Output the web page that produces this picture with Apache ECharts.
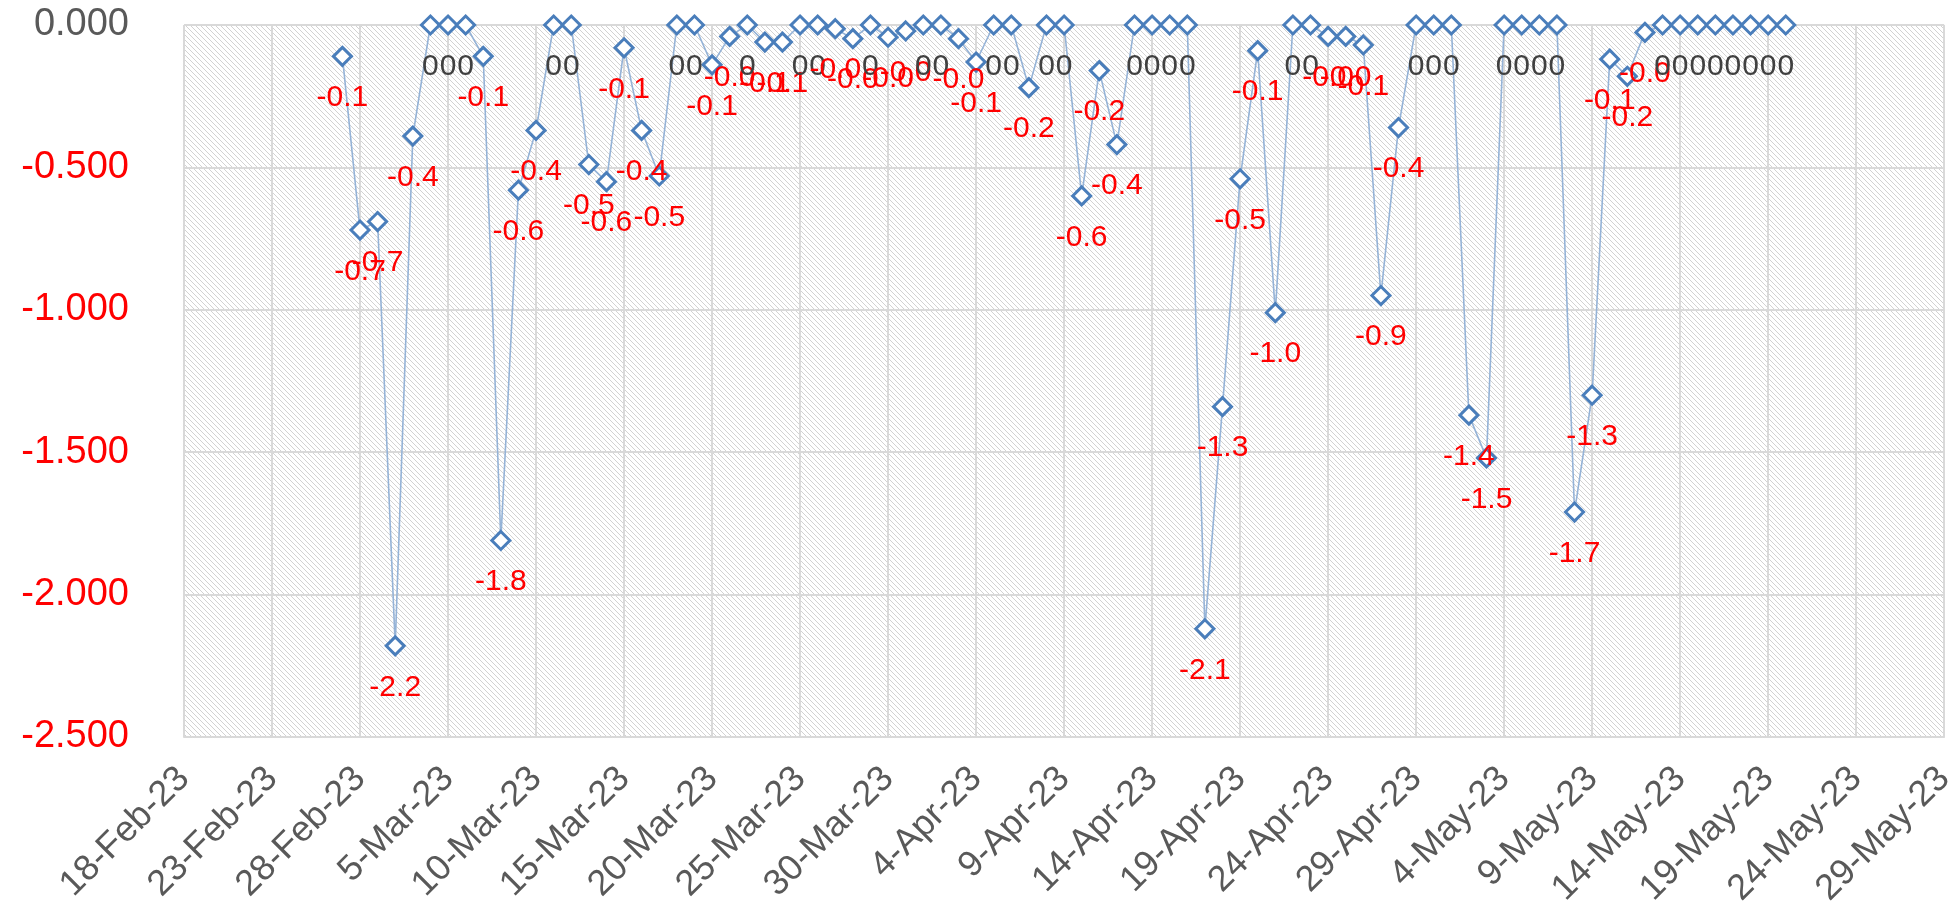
<!DOCTYPE html>
<html>
<head>
<meta charset="utf-8">
<script src="https://cdn.jsdelivr.net/npm/echarts@6/dist/echarts.min.js"></script>
<style>
html,body{margin:0;padding:0;background:#fff;}
#chart{width:1959px;height:910px;}
</style>
</head>
<body>
<div id="chart"></div>
<script>
// ---- data ----
const axisStart = '2023-02-18';
const axisEnd = '2023-05-29';
const yTicks = [-2.5, -2.0, -1.5, -1.0, -0.5, 0];
const dates = [
 '2023-02-27','2023-02-28','2023-03-01','2023-03-02','2023-03-03','2023-03-04','2023-03-05','2023-03-06','2023-03-07','2023-03-08',
 '2023-03-09','2023-03-10','2023-03-11','2023-03-12','2023-03-13','2023-03-14','2023-03-15','2023-03-16','2023-03-17','2023-03-18',
 '2023-03-19','2023-03-20','2023-03-21','2023-03-22','2023-03-23','2023-03-24','2023-03-25','2023-03-26','2023-03-27','2023-03-28',
 '2023-03-29','2023-03-30','2023-03-31','2023-04-01','2023-04-02','2023-04-03','2023-04-04','2023-04-05','2023-04-06','2023-04-07',
 '2023-04-08','2023-04-09','2023-04-10','2023-04-11','2023-04-12','2023-04-13','2023-04-14','2023-04-15','2023-04-16','2023-04-17',
 '2023-04-18','2023-04-19','2023-04-20','2023-04-21','2023-04-22','2023-04-23','2023-04-24','2023-04-25','2023-04-26','2023-04-27',
 '2023-04-28','2023-04-29','2023-04-30','2023-05-01','2023-05-02','2023-05-03','2023-05-04','2023-05-05','2023-05-06','2023-05-07',
 '2023-05-08','2023-05-09','2023-05-10','2023-05-11','2023-05-12','2023-05-13','2023-05-14','2023-05-15','2023-05-16','2023-05-17',
 '2023-05-18','2023-05-19','2023-05-20'
];
const values = [
 -0.11,-0.72,-0.69,-2.18,-0.39,0,0,0,-0.11,-1.81,
 -0.58,-0.37,0,0,-0.49,-0.55,-0.08,-0.37,-0.53,0,
 0,-0.14,-0.04,0,-0.06,-0.06,0,0,-0.013,-0.048,
 0,-0.043,-0.021,0,0,-0.048,-0.13,0,0,-0.22,
 0,0,-0.60,-0.16,-0.42,0,0,0,0,-2.12,
 -1.34,-0.54,-0.09,-1.01,0,0,-0.04,-0.04,-0.07,-0.95,
 -0.36,0,0,0,-1.37,-1.52,0,0,0,0,
 -1.71,-1.30,-0.12,-0.18,-0.026,0,0,0,0,0,
 0,0,0
];

// ---- helpers ----
const MON = ['Jan','Feb','Mar','Apr','May','Jun','Jul','Aug','Sep','Oct','Nov','Dec'];
function toUTC(s){const p=s.split('-').map(Number);return Date.UTC(p[0],p[1]-1,p[2]);}
const t0 = toUTC(axisStart);
const DAY = 86400000;
function dayOffset(s){return Math.round((toUTC(s)-t0)/DAY);}
function fmtDay(v){const d=new Date(t0+v*DAY);return d.getUTCDate()+'-'+MON[d.getUTCMonth()]+'-'+String(d.getUTCFullYear()).slice(2);}

const seriesData = dates.map((d,i)=>[dayOffset(d), values[i]]);

// hatch pattern
const pc = document.createElement('canvas');
pc.width = 5; pc.height = 5;
const g = pc.getContext('2d');
g.fillStyle = '#ffffff'; g.fillRect(0,0,5,5);
g.strokeStyle = '#d2d2d2'; g.lineWidth = 1;
g.beginPath();
g.moveTo(-1,-1); g.lineTo(6,6);
g.moveTo(-1,4); g.lineTo(1,6);
g.moveTo(4,-1); g.lineTo(6,1);
g.stroke();

const FONT = 'Liberation Sans';
const chart = echarts.init(document.getElementById('chart'), null, {renderer:'canvas'});
chart.setOption({
  animation: false,
  backgroundColor: '#ffffff',
  grid: {
    left: 184, right: 8, top: 25, bottom: 173,
    show: true, borderWidth: 0,
    backgroundColor: {image: pc, repeat: 'repeat'}
  },
  xAxis: {
    type: 'value',
    min: 0, max: dayOffset(axisEnd), interval: 5,
    axisLine: {show: true, onZero: false, lineStyle: {color: '#d9d9d9', width: 2}},
    axisTick: {show: false},
    splitLine: {show: true, lineStyle: {color: '#d9d9d9', width: 2}},
    axisLabel: {
      rotate: 45, margin: 36,
      color: '#595959', fontFamily: FONT, fontSize: 36,
      formatter: v => fmtDay(v)
    }
  },
  yAxis: {
    type: 'value',
    min: yTicks[0], max: yTicks[yTicks.length-1], interval: 0.5,
    axisLine: {show: false},
    axisTick: {show: false},
    splitLine: {show: true, lineStyle: {color: '#d9d9d9', width: 2}},
    axisLabel: {
      margin: 55, fontFamily: FONT, fontSize: 38,
      formatter: v => v.toFixed(3),
      color: v => (Number(v) < 0 ? '#ff0000' : '#595959')
    }
  },
  series: [{
    type: 'line',
    data: seriesData,
    symbol: 'diamond',
    symbolSize: 18,
    showAllSymbol: true,
    lineStyle: {color: '#95b3d7', width: 1.6},
    itemStyle: {color: '#ffffff', borderColor: '#4a7ebb', borderWidth: 3},
    label: {
      show: true,
      position: 'bottom',
      distance: 16,
      fontFamily: FONT,
      fontSize: 30,
      formatter: p => {
        const v = p.value[1];
        return v === 0 ? '{z|0}' : '{n|' + v.toFixed(1) + '}';
      },
      rich: {
        z: {color: '#404040', fontFamily: FONT, fontSize: 30},
        n: {color: '#ff0000', fontFamily: FONT, fontSize: 30}
      }
    },
    labelLayout: {hideOverlap: false},
    z: 3
  }]
});
</script>
</body>
</html>
